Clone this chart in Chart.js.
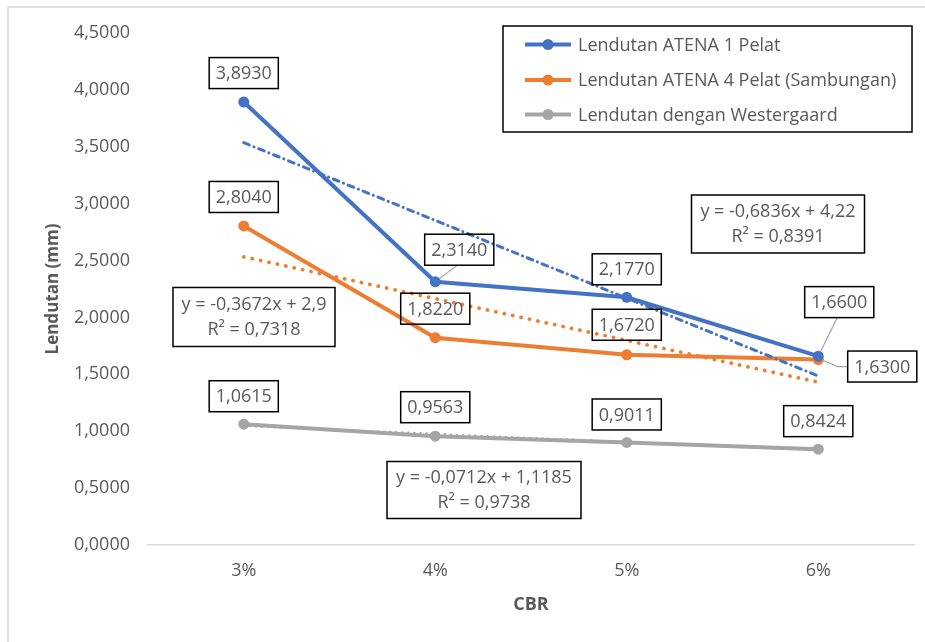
<!DOCTYPE html>
<html>
<head>
<meta charset="utf-8">
<script src="https://cdn.jsdelivr.net/npm/chart.js@4.4.1/dist/chart.umd.min.js"></script>
<style>
  html, body { margin: 0; padding: 0; background: #fff; }
  #wrap { width: 925px; height: 642px; }
</style>
</head>
<body>
<div id="wrap"><canvas id="chart" width="925" height="642"></canvas></div>
<script>
// data
const categories = ['3%', '4%', '5%', '6%'];
const atena1 = [3.8930, 2.3140, 2.1770, 1.6600];
const atena4 = [2.8040, 1.8220, 1.6720, 1.6300];
const westergaard = [1.0615, 0.9563, 0.9011, 0.8424];
const seriesNames = [
    'Lendutan ATENA 1 Pelat',
    'Lendutan ATENA 4 Pelat (Sambungan)',
    'Lendutan dengan Westergaard'
];
const trendTexts = [
    ['y = -0,6836x + 4,22', 'R² = 0,8391'],
    ['y = -0,3672x + 2,9', 'R² = 0,7318'],
    ['y = -0,0712x + 1,1185', 'R² = 0,9738']
];

const colors = ['#4472C4', '#ED7D31', '#A5A5A5'];
const textColor = '#595959';
const FONT = "'Open Sans', sans-serif";

const fmt = v => v.toFixed(4).replace('.', ',');

// least squares line, like Excel's linear trendline
const linearFit = (ys) => {
    const xs = ys.map((_, i) => i + 1);
    const mx = xs.reduce((a, b) => a + b, 0) / xs.length;
    const my = ys.reduce((a, b) => a + b, 0) / ys.length;
    let num = 0, den = 0;
    xs.forEach((x, i) => {
        num += (x - mx) * (ys[i] - my);
        den += (x - mx) * (x - mx);
    });
    const slope = num / den;
    return xs.map(x => my + slope * (x - mx));
};

// label offsets from each point, px
const labelPlacement = [
    [{dx: 0, dy: -29}, {dx: 24, dy: -32, leader: 'bottom'}, {dx: 0, dy: -28}, {dx: 21, dy: -54, leader: 'bottom'}],
    [{dx: 0, dy: -29}, {dx: 0, dy: -29}, {dx: 0, dy: -30}, {dx: 64, dy: 7, leader: 'left'}],
    [{dx: 0, dy: -28}, {dx: 0, dy: -29}, {dx: 0, dy: -28}, {dx: 0, dy: -28}]
];
const trendBoxes = [
    {x: 778, y: 224, w: 173, h: 58},
    {x: 254, y: 317, w: 162, h: 59},
    {x: 484, y: 490, w: 194, h: 57}
];

const mainSeries = (label, data, color) => ({
    label,
    data,
    borderColor: color,
    backgroundColor: color,
    borderWidth: 4,
    pointRadius: 5.5,
    pointBorderWidth: 0,
    pointBackgroundColor: color,
    tension: 0,
    order: 1
});

const trendSeries = (data, color, dash, width) => ({
    label: 'trend',
    data,
    borderColor: color,
    borderWidth: width,
    borderDash: dash,
    borderCapStyle: 'round',
    pointRadius: 0,
    tension: 0,
    order: 0
});

const decorations = {
    id: 'decorations',
    beforeDraw(chart) {
        const ctx = chart.ctx;
        ctx.save();
        ctx.fillStyle = '#fff';
        ctx.fillRect(0, 0, chart.width, chart.height);
        ctx.strokeStyle = '#D9D9D9';
        ctx.lineWidth = 1.5;
        ctx.beginPath();
        ctx.moveTo(8, chart.height);
        ctx.lineTo(8, 7);
        ctx.lineTo(chart.width, 7);
        ctx.stroke();
        ctx.restore();
    },
    afterDraw(chart) {
        const ctx = chart.ctx;
        ctx.save();
        ctx.font = `18px ${FONT}`;
        ctx.textAlign = 'center';
        ctx.textBaseline = 'middle';

        // data labels
        for (let s = 0; s < 3; s++) {
            const meta = chart.getDatasetMeta(s);
            const values = chart.data.datasets[s].data;
            meta.data.forEach((pt, j) => {
                const pl = labelPlacement[s][j];
                const text = fmt(values[j]);
                const bw = ctx.measureText(text).width + 13;
                const bh = 31;
                const cx = pt.x + pl.dx;
                const cy = pt.y + pl.dy;
                if (pl.leader) {
                    ctx.strokeStyle = '#A6A6A6';
                    ctx.lineWidth = 1.2;
                    ctx.beginPath();
                    if (pl.leader === 'bottom') {
                        const tx = cx - 2, ty = cy + bh / 2;
                        const a = Math.atan2(ty - pt.y, tx - pt.x);
                        ctx.moveTo(pt.x + Math.cos(a) * 5, pt.y + Math.sin(a) * 5);
                        ctx.lineTo(tx, ty);
                    } else {
                        const lx = cx - bw / 2;
                        ctx.moveTo(pt.x + 5, pt.y + 1);
                        ctx.lineTo(lx - 10, cy);
                        ctx.lineTo(lx, cy);
                    }
                    ctx.stroke();
                }
                ctx.strokeStyle = '#000';
                ctx.lineWidth = 1.5;
                ctx.strokeRect(cx - bw / 2, cy - bh / 2, bw, bh);
                ctx.fillStyle = textColor;
                ctx.fillText(text, cx, cy + 1);
            });
        }

        // trendline equation boxes
        trendBoxes.forEach((b, i) => {
            ctx.strokeStyle = '#000';
            ctx.lineWidth = 1.5;
            ctx.strokeRect(b.x - b.w / 2, b.y - b.h / 2, b.w, b.h);
            ctx.fillStyle = textColor;
            ctx.fillText(trendTexts[i][0], b.x, b.y - 12);
            ctx.fillText(trendTexts[i][1], b.x, b.y + 13);
        });

        // legend
        const lg = {x: 503, y: 26, w: 409, h: 106};
        ctx.strokeStyle = '#000';
        ctx.lineWidth = 1.5;
        ctx.strokeRect(lg.x, lg.y, lg.w, lg.h);
        const rows = [44.5, 80, 114.5];
        ctx.textAlign = 'left';
        for (let s = 0; s < 3; s++) {
            const ds = chart.data.datasets[s];
            const y = rows[s];
            ctx.strokeStyle = ds.borderColor;
            ctx.lineWidth = 4;
            ctx.beginPath();
            ctx.moveTo(525, y);
            ctx.lineTo(571, y);
            ctx.stroke();
            ctx.fillStyle = ds.borderColor;
            ctx.beginPath();
            ctx.arc(548, y, 5.5, 0, Math.PI * 2);
            ctx.fill();
            ctx.fillStyle = textColor;
            ctx.fillText(ds.label, 578, y + 1);
        }
        ctx.restore();
    }
};

new Chart(document.getElementById('chart'), {
    type: 'line',
    data: {
        labels: categories,
        datasets: [
            mainSeries(seriesNames[0], atena1, colors[0]),
            mainSeries(seriesNames[1], atena4, colors[1]),
            mainSeries(seriesNames[2], westergaard, colors[2]),
            trendSeries(linearFit(atena1), colors[0], [6, 5, 0.1, 5], 3),
            trendSeries(linearFit(atena4), colors[1], [0.1, 8.5], 3.8),
            trendSeries(linearFit(westergaard), colors[2], [0.1, 6], 2.5)
        ]
    },
    options: {
        responsive: false,
        animation: false,
        devicePixelRatio: 1,
        layout: {
            padding: {top: 33, right: 11, left: 0, bottom: 0}
        },
        scales: {
            x: {
                offset: true,
                grid: {display: false, drawTicks: false},
                border: {display: true, color: '#D9D9D9', width: 1.5},
                ticks: {color: textColor, font: {family: FONT, size: 18}, padding: 15},
                title: {
                    display: true,
                    text: 'CBR',
                    color: textColor,
                    font: {family: FONT, size: 18, weight: 'bold'},
                    padding: {bottom: 26, top: 0}
                },
                afterFit: (scale) => { scale.height = 97; }
            },
            y: {
                min: 0,
                max: 4.5,
                ticks: {
                    stepSize: 0.5,
                    color: textColor,
                    font: {family: FONT, size: 18},
                    padding: 18,
                    callback: (v) => fmt(v)
                },
                grid: {display: false, drawTicks: false},
                border: {display: false},
                title: {
                    display: true,
                    text: 'Lendutan (mm)',
                    color: textColor,
                    font: {family: FONT, size: 17, weight: 'bold'},
                    padding: {top: 43, bottom: 0}
                },
                afterFit: (scale) => { scale.width = 148; }
            }
        },
        plugins: {
            legend: {display: false},
            tooltip: {enabled: false}
        }
    },
    plugins: [decorations]
});
</script>
</body>
</html>
